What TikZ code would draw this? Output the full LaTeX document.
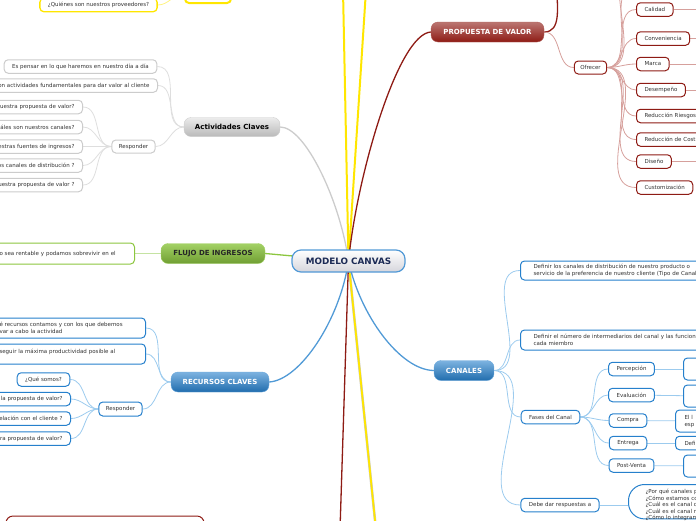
\documentclass[tikz,border=0pt]{standalone}
\usepackage{fontspec}
\setmainfont{DejaVu Sans}
\usetikzlibrary{positioning,backgrounds}

\definecolor{navy}{HTML}{1B2A55}
\definecolor{azul}{HTML}{2680CC}
\definecolor{azulclaro}{HTML}{9CCBEE}
\definecolor{rojo}{HTML}{8E1B14}
\definecolor{rojoclaro}{HTML}{D6A09C}
\definecolor{verde}{HTML}{8CC63F}
\definecolor{verdeclaro}{HTML}{C5E3A2}
\definecolor{gris}{HTML}{CCCCCC}
\definecolor{grisclaro}{HTML}{DEDEDE}
\definecolor{amarillo}{HTML}{FFE600}
\definecolor{texto}{HTML}{333333}

\begin{document}
\begin{tikzpicture}[
  x=1pt, y=-1pt,
  raiz/.style={draw=azul!80, line width=1.2pt, rounded corners=9pt, top color=white, bottom color=blue!8!gray!30,
    minimum width=113pt, minimum height=22pt, font=\fontsize{8.8}{10}\selectfont\bfseries, text=navy},
  rama/.style={rounded corners=7pt, minimum height=20pt, inner sep=2pt, font=\fontsize{7}{8}\selectfont\bfseries},
  ramaroja/.style={rama, draw=rojo!70, top color=rojo!60, bottom color=rojo, text=white},
  ramaazul/.style={rama, draw=azul!70, top color=azul!60, bottom color=azul!85!black, text=white},
  ramaverde/.style={rama, draw=verde!80, top color=verde!80, bottom color=verde!80!black, text=black!85},
  ramagris/.style={rama, draw=gris, top color=gray!15, bottom color=gray!55, text=black},
  hoja/.style={draw, fill=white, line width=1pt, rounded corners=4pt, minimum height=13.5pt, inner xsep=8pt, inner ysep=2pt,
    font=\fontsize{5.5}{7}\selectfont, text=texto},
  hojaroja/.style={hoja, draw=rojo},
  hojaazul/.style={hoja, draw=azul},
  hojaverde/.style={hoja, draw=verde},
  hojagris/.style={hoja, draw=gris},
  hojaamarilla/.style={hoja, draw=amarillo, line width=1.3pt},
  izq/.style={anchor=east, align=right},
  der/.style={anchor=west, align=left},
  lazo/.style={line width=0.8pt},
  tronco/.style={line width=1.3pt}
]
\useasboundingbox (0,0) rectangle (696,520);
\clip (0,0) rectangle (696,520);

% centro
\node[raiz] (canvas) at (348.5,261) {MODELO CANVAS};

% ramas principales
\node[ramaroja, minimum width=113pt] (propuesta) at (487.5,32) {PROPUESTA DE VALOR};
\node[ramagris, minimum width=96pt, minimum height=19pt] (actividades) at (232,127) {Actividades Claves};
\node[ramaverde, minimum width=104pt] (flujo) at (213,253.5) {FLUJO DE INGRESOS};
\node[ramaazul, minimum width=98pt] (recursos) at (220,382) {RECURSOS CLAVES};
\node[ramaazul, minimum width=60pt] (canales) at (464,370.5) {CANALES};
\node[hojaamarilla, line width=2pt, minimum width=46pt, minimum height=18pt] (socios) at (208,-6) {};
\node[hojaroja, minimum width=198pt, minimum height=30pt, rounded corners=7pt] (inferior) at (105,531) {};
\coordinate (arriba1) at (343,-10);
\coordinate (arriba2) at (366,-10);
\coordinate (abajo1) at (376,530);
\coordinate (abajo2) at (340,530);

% socios
\node[hojaamarilla] (proveedores) at (98.5,5) {¿Quiénes son nuestros proveedores?};

% propuesta de valor
\coordinate (propuestaarriba) at (557,-10);
\node[hojaroja, minimum height=13pt, inner xsep=6pt] (ofrecer) at (590.5,67.5) {Ofrecer};
\coordinate (ofrecer1) at (636,-14);
\coordinate (ofrecer2) at (636,-36);
\node[hojaroja, der] (calidad) at (636,9.5) {Calidad};
\node[hojaroja, der] (conveniencia) at (636,38.5) {Conveniencia};
\node[hojaroja, der] (marca) at (636,64) {Marca};
\node[hojaroja, der] (desempeno) at (636,90) {Desempeño};
\node[hojaroja, der, text width=70pt] (riesgos) at (636,116) {Reducción Riesgos};
\node[hojaroja, der, text width=70pt] (costos) at (636,139.5) {Reducción de Cost};
\node[hojaroja, der] (diseno) at (636,161.5) {Diseño};
\node[hojaroja, der] (custom) at (636,187.5) {Customización};

% actividades claves
\node[hojagris] (pensar) at (80.5,66.5) {Es pensar en lo que haremos en nuestro día a día};
\node[hojagris, izq, text width=170pt] (fundamentales) at (158,85.5) {on actividades fundamentales para dar valor al cliente};
\node[hojagris, minimum height=13pt, inner xsep=7pt] (responder) at (133.5,146.5) {Responder};
\node[hojagris, izq, text width=100pt] (pregunta1) at (83,107) {uestra propuesta de valor?};
\node[hojagris, izq, text width=100pt] (pregunta2) at (83,127) {áles son nuestros canales?};
\node[hojagris, izq, text width=100pt] (pregunta3) at (83,146.5) {estras fuentes de ingresos?};
\node[hojagris, izq, text width=100pt] (pregunta4) at (83,165.5) {os canales de distribución ?};
\node[hojagris, izq, text width=100pt] (pregunta5) at (83,185) {uestra propuesta de valor ?};

% flujo de ingresos
\node[hojaverde, der, text width=127pt, minimum height=21pt] (rentable) at (-9,253.5) {o sea rentable y podamos sobrevivir en el};

% recursos claves
\node[hojaazul, der, text width=138pt, minimum height=20pt] (contamos) at (-9,328) {é recursos contamos y con los que debemos\\var a cabo la actividad};
\node[hojaazul, der, text width=138pt, minimum height=20pt, text depth=6pt] (productividad) at (-9,354) {seguir la máxima productividad posible al};
\node[hojaazul, minimum height=14pt, inner xsep=7pt] (responderdos) at (120.5,409) {Responder};
\node[hojaazul] (somos) at (43.5,379.5) {¿Qué somos?};
\node[hojaazul, izq, text width=100pt] (propuestados) at (71,399) {la propuesta de valor?};
\node[hojaazul, izq, text width=100pt] (relacion) at (71,418.5) {elación con el cliente ?};
\node[hojaazul, izq, text width=100pt] (propuestatres) at (71,438.5) {ra propuesta de valor?};

% canales
\node[hojaazul, der, text width=200pt, minimum height=19pt, inner xsep=13pt] (distribucion) at (520,270.5)
  {Definir los canales de distribución de nuestro producto o\\servicio de la preferencia de nuestro cliente (Tipo de Canal};
\node[hojaazul, der, text width=200pt, minimum height=20pt, inner xsep=13pt] (intermediarios) at (520,340)
  {Definir el número de intermediarios del canal y las funcione\\cada miembro};
\node[hojaazul] (fases) at (550.5,417) {Fases del Canal};
\node[hojaazul] (debe) at (560,505) {Debe dar respuestas a};
\node[hojaazul] (percepcion) at (631.5,369) {Percepción};
\node[hojaazul] (evaluacion) at (631.5,395) {Evaluación};
\node[hojaazul] (compra) at (628,420.5) {Compra};
\node[hojaazul] (entrega) at (628,443) {Entrega};
\node[hojaazul] (postventa) at (631.5,465.5) {Post-Venta};
\node[hojaazul, der, text width=30pt, minimum height=22pt] (percepciondet) at (683,369) {};
\node[hojaazul, der, text width=30pt, minimum height=22pt] (evaluaciondet) at (683,396) {};
\node[hojaazul, der, text width=30pt, minimum height=22pt, inner xsep=9pt] (compradet) at (675,421) {El l\\esp};
\node[hojaazul, der, text width=30pt, inner xsep=9pt] (entregadet) at (675,443) {Defi};
\node[hojaazul, der, text width=30pt, minimum height=22pt] (postventadet) at (683,466) {};
\node[hojaazul, anchor=north west, align=left, text width=80pt, inner xsep=17pt, inner ysep=5pt,
  text depth=20pt, rounded corners=16pt, font=\fontsize{5.5}{6.4}\selectfont] (respuestas) at (628,484)
  {¿Por qué canales p\\¿Cómo estamos co\\¿Cuál es el canal q\\¿Cuál es el canal m\\¿Cómo lo integram};

\begin{scope}[on background layer]
% troncos desde el centro
\draw[tronco, amarillo, line width=2pt] (canvas.center) -- (arriba1);
\draw[tronco, amarillo, line width=2pt] (canvas.center) -- (arriba2);
\draw[gray!40, line width=2.6pt] (canvas.center) -- (abajo1);
\draw[tronco, amarillo, line width=1.8pt] (canvas.center) -- (abajo1);
\draw[tronco, rojo] (canvas.center) -- (abajo2);
\draw[tronco, rojo] (canvas.center) .. controls (357,175) and (398,34) .. (propuesta.west);
\draw[tronco, gris] (canvas.center) .. controls (340,200) and (305,127) .. (actividades.east);
\draw[tronco, verde] (canvas.center) -- (flujo.east);
\draw[tronco, azul!80] (canvas.center) .. controls (340,320) and (300,380) .. (recursos.east);
\draw[tronco, azul!80] (canvas.center) .. controls (360,315) and (400,370) .. (canales.west);

% socios
\draw[lazo, amarillo!50] (socios.west) to[out=180,in=0] (proveedores.east);

% propuesta de valor
\draw[tronco, rojo] (propuesta.east) to[out=0,in=-90] (propuestaarriba);
\draw[lazo, rojoclaro] (propuesta.east) to[out=0,in=180] (ofrecer.west);
\foreach \hijo in {ofrecer1,ofrecer2}
  \draw[lazo, rojoclaro] (ofrecer.east) to[out=0,in=180] (\hijo);
\foreach \hijo in {calidad,conveniencia,marca,desempeno,riesgos,costos,diseno,custom}
  \draw[lazo, rojoclaro] (ofrecer.east) to[out=0,in=180] (\hijo.west);
\foreach \hijo in {calidad,conveniencia,marca,desempeno,diseno}
  \draw[lazo, rojoclaro] (\hijo.east) -- ++(40,0);

% actividades claves
\foreach \hijo in {pensar,fundamentales,responder}
  \draw[lazo, grisclaro] (actividades.west) to[out=180,in=0] (\hijo.east);
\foreach \hijo in {pregunta1,pregunta2,pregunta3,pregunta4,pregunta5}
  \draw[lazo, grisclaro] (responder.west) to[out=180,in=0] (\hijo.east);

% flujo de ingresos
\draw[lazo, verdeclaro] (flujo.west) -- (rentable.east);

% recursos claves
\foreach \hijo in {contamos,productividad,responderdos}
  \draw[lazo, azulclaro] (recursos.west) to[out=180,in=0] (\hijo.east);
\foreach \hijo in {somos,propuestados,relacion,propuestatres}
  \draw[lazo, azulclaro] (responderdos.west) to[out=180,in=0] (\hijo.east);

% canales
\foreach \hijo in {distribucion,intermediarios,fases,debe}
  \draw[lazo, azulclaro] (canales.east) to[out=0,in=180] (\hijo.west);
\foreach \hijo in {percepcion,evaluacion,compra,entrega,postventa}
  \draw[lazo, azulclaro] (fases.east) to[out=0,in=180] (\hijo.west);
\draw[lazo, azulclaro] (percepcion) -- (percepciondet);
\draw[lazo, azulclaro] (evaluacion) -- (evaluaciondet);
\draw[lazo, azulclaro] (compra) -- (compradet);
\draw[lazo, azulclaro] (entrega) -- (entregadet);
\draw[lazo, azulclaro] (postventa) -- (postventadet);
\draw[lazo, azulclaro] (debe.east) -- (debe.east -| respuestas.west);
\end{scope}
\end{tikzpicture}
\end{document}
